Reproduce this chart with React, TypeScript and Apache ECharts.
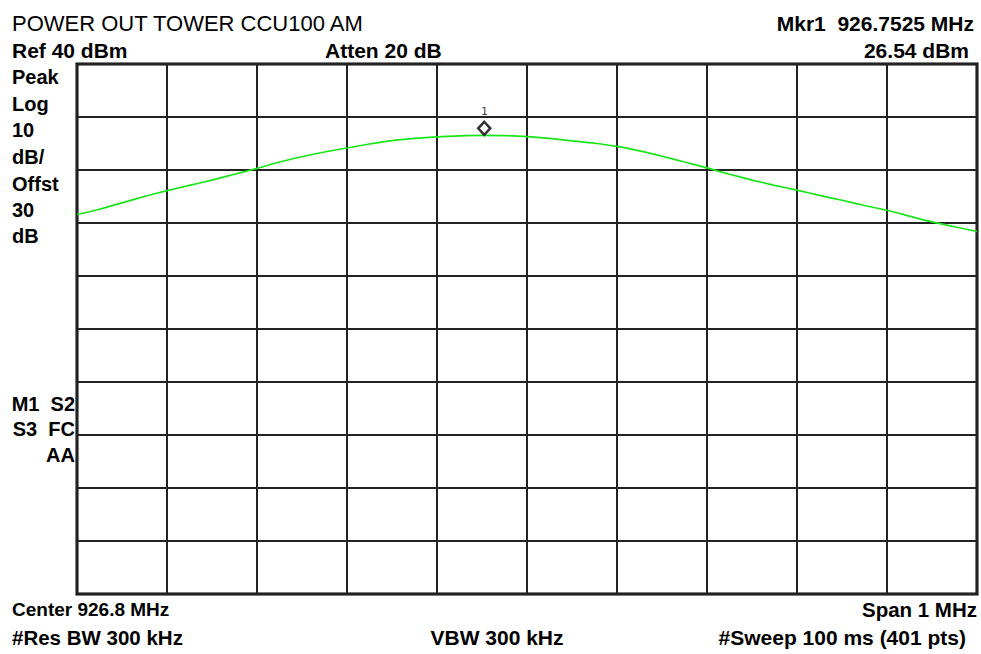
import React, { useEffect, useRef } from "react";
import * as echarts from "echarts";

// Frequency (MHz) of each trace sample and measured level (dBm)
const freqsMHz: number[] = [
  926.3, 926.325, 926.35, 926.375, 926.4, 926.425, 926.45, 926.475, 926.5, 926.525,
  926.55, 926.575, 926.6, 926.625, 926.65, 926.675, 926.7, 926.725, 926.75, 926.775,
  926.8, 926.825, 926.85, 926.875, 926.9, 926.925, 926.95, 926.975, 927.0, 927.025,
  927.05, 927.075, 927.1, 927.125, 927.15, 927.175, 927.2, 927.225, 927.25, 927.275,
  927.3,
];
const levelsDbm: number[] = [
  11.6, 12.6, 13.8, 15.0, 16.1, 17.1, 18.1, 19.2, 20.3, 21.5,
  22.5, 23.4, 24.15, 24.9, 25.55, 25.95, 26.25, 26.45, 26.54, 26.5,
  26.3, 25.95, 25.5, 25.05, 24.45, 23.6, 22.6, 21.5, 20.4, 19.2,
  18.1, 17.1, 16.2, 15.2, 14.3, 13.3, 12.4, 11.3, 10.2, 9.3,
  8.4,
];
const markerFreq = 926.7525;
const markerLevel = 26.54;
const markerLabel = "1";

const freqMin = 926.3;
const freqMax = 927.3;
const freqStep = 0.1;
const refLevel = 40;
const dbPerDiv = 10;
const bottomLevel = -60;

const title = "POWER OUT TOWER CCU100 AM";
const leftLabels = ["Peak", "Log", "10", "dB/", "Offst", "30", "dB"];
const modeLabels = ["M1  S2", "S3  FC", "AA"];

export default function App() {
  const ref = useRef<HTMLDivElement>(null);
  useEffect(() => {
    if (!ref.current) return;
    const chart = echarts.init(ref.current, undefined, { renderer: "svg" });
    const ff = '"Liberation Sans", Arial, sans-serif';
    const txt = (
      text: string,
      x: number,
      y: number,
      size: number,
      weight: string,
      align: string = "left"
    ) => ({
      type: "text",
      x,
      y,
      silent: true,
      style: {
        text,
        fill: "#000",
        fontSize: size,
        fontWeight: weight,
        fontFamily: ff,
        align,
        verticalAlign: "middle",
      },
    });
    const leftY = [77, 104, 130, 157, 184, 210, 236];
    const modeY = [404, 429, 455];
    const graphics: any[] = [
      txt(title, 12, 23, 22, "normal"),
      txt("Mkr1  926.7525 MHz", 974, 23, 21, "bold", "right"),
      txt("Ref 40 dBm", 12, 50, 21, "bold"),
      txt("Atten 20 dB", 325, 50, 21, "bold"),
      txt("26.54 dBm", 969, 50, 21, "bold", "right"),
      ...leftLabels.map((t, i) => txt(t, 12, leftY[i], 20, "bold")),
      ...modeLabels.map((t, i) => txt(t, 75, modeY[i], 20, "bold", "right")),
      txt("Center 926.8 MHz", 12, 609, 19, "bold"),
      txt("Span 1 MHz", 977, 609, 20.5, "bold", "right"),
      txt("#Res BW 300 kHz", 12, 637, 20.5, "bold"),
      txt("VBW 300 kHz", 497, 637, 21, "bold", "center"),
      txt("#Sweep 100 ms (401 pts)", 966, 637, 21, "bold", "right"),
    ];
    chart.setOption({
      animation: false,
      backgroundColor: "#fff",
      grid: {
        left: 77,
        top: 64,
        width: 900,
        height: 530,
        show: true,
        borderColor: "#000",
        borderWidth: 3,
        backgroundColor: "transparent",
      },
      xAxis: {
        type: "value",
        min: freqMin,
        max: freqMax,
        interval: freqStep,
        axisLine: { show: false },
        axisTick: { show: false },
        axisLabel: { show: false },
        splitLine: { show: true, lineStyle: { color: "#222", width: 2 } },
      },
      yAxis: {
        type: "value",
        min: bottomLevel,
        max: refLevel,
        interval: dbPerDiv,
        axisLine: { show: false },
        axisTick: { show: false },
        axisLabel: { show: false },
        splitLine: { show: true, lineStyle: { color: "#222", width: 2 } },
      },
      series: [
        {
          type: "line",
          data: freqsMHz.map((f, i) => [f, levelsDbm[i]]),
          showSymbol: false,
          smooth: 0.2,
          lineStyle: { color: "#18e618", width: 1.7 },
          silent: true,
          z: 3,
        },
        {
          type: "scatter",
          data: [[markerFreq, markerLevel]],
          symbol: "diamond",
          symbolSize: [12, 13],
          symbolOffset: [0, -7],
          itemStyle: { color: "#fff", borderColor: "#000", borderWidth: 2.6 },
          label: {
            show: true,
            position: "top",
            distance: 3,
            formatter: markerLabel,
            fontFamily: '"DejaVu Sans Mono", monospace',
            fontSize: 11,
            color: "#000",
          },
          silent: true,
          z: 4,
        },
      ],
      graphic: graphics,
    });
    return () => chart.dispose();
  }, []);
  return (
    <div
      ref={ref}
      style={{ position: "fixed", left: 0, top: 0, width: 981, height: 654 }}
    />
  );
}
